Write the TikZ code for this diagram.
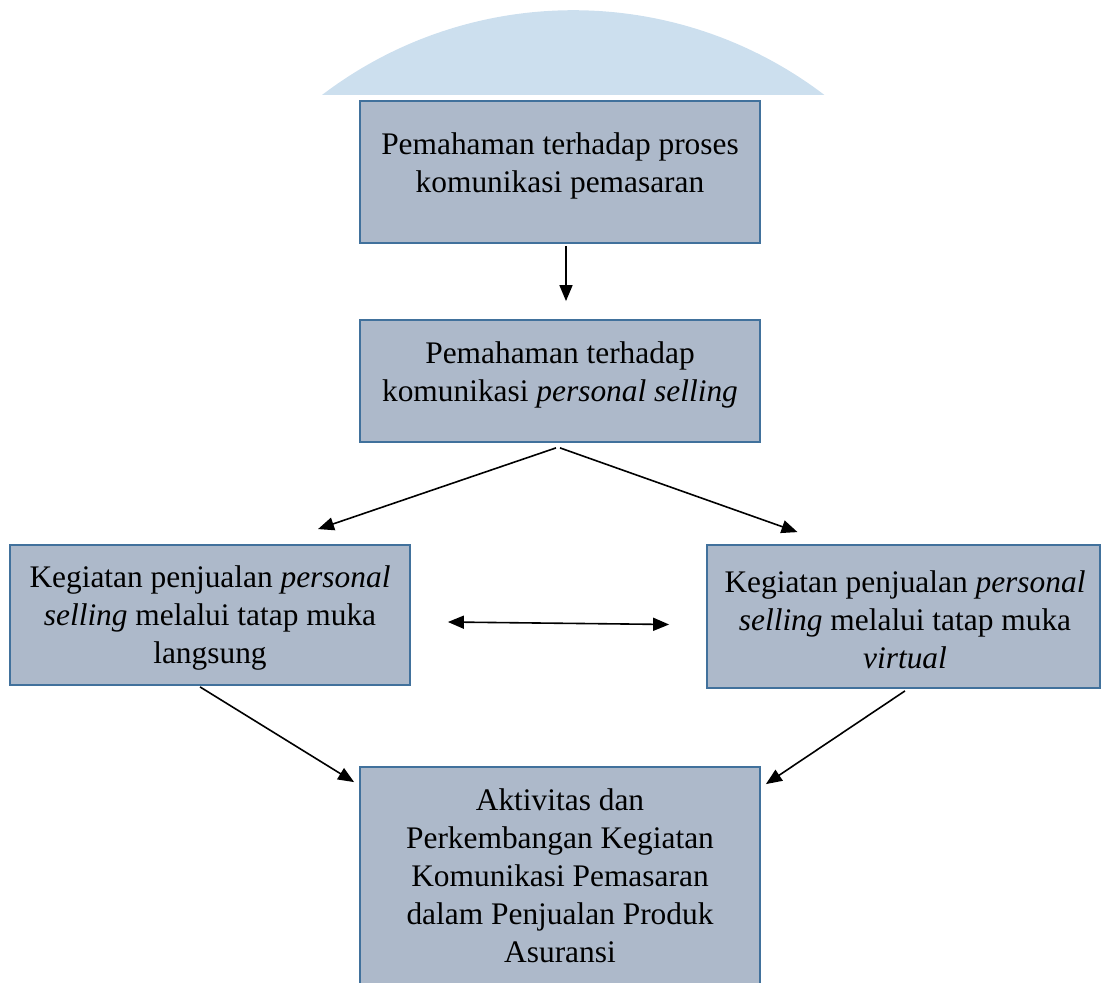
\documentclass[tikz,border=0pt]{standalone}
\usepackage{fontspec}
\setmainfont{Liberation Serif}
\usetikzlibrary{arrows.meta}
\definecolor{boxfill}{HTML}{ADB9CA}
\definecolor{boxline}{HTML}{41719C}
\definecolor{arcfill}{HTML}{CCDFEE}
\begin{document}
\begin{tikzpicture}[x=0.5pt,y=-0.5pt,
  box/.style={draw=boxline, fill=boxfill, line width=0.9pt, inner sep=0pt},
  txt/.style={align=center, font=\fontsize{15.7}{19}\selectfont, inner sep=0pt},
  arr/.style={-{Triangle[length=8pt,width=6.5pt]}, line width=0.8pt},
  darr/.style={{Triangle[length=8pt,width=6.5pt]}-{Triangle[length=8pt,width=6.5pt]}, line width=0.8pt}]
\useasboundingbox (0,0) rectangle (1102,983);
\fill[arcfill] (322,95) arc[start angle=-127.3, end angle=-52.7, radius=414.6] -- cycle;
\node[box, minimum width=200pt, minimum height=71pt] (b1) at (560,172) {};
\node[box, minimum width=200pt, minimum height=61pt] (b2) at (560,381) {};
\node[box, minimum width=200pt, minimum height=70pt] (b3) at (210,615) {};
\node[box, minimum width=196.5pt, minimum height=71.5pt] (b4) at (903.5,616.5) {};
\node[box, minimum width=200pt, minimum height=121.5pt] (b5) at (560,888.5) {};
\node[txt] (t1) at (560,166) {Pemahaman terhadap proses\\komunikasi pemasaran};
\node[txt] (t2) at (560,375) {Pemahaman terhadap\\komunikasi \textit{personal selling}};
\node[txt] (t3) at (210,618) {Kegiatan penjualan \textit{personal}\\\textit{selling} melalui tatap muka\\langsung};
\node[txt] (t4) at (905,620) {Kegiatan penjualan \textit{personal}\\\textit{selling} melalui tatap muka\\\textit{virtual}};
\node[txt] (t5) at (560,876) {Aktivitas dan\\Perkembangan Kegiatan\\Komunikasi Pemasaran\\dalam Penjualan Produk\\Asuransi};
\draw[arr] ([xshift=3pt,yshift=-1pt]b1.south) -- ([xshift=3pt,yshift=9pt]b2.north);
\draw[arr] ([xshift=-2pt,yshift=-2.5pt]b2.south) -- ([xshift=54pt,yshift=7.5pt]b3.north);
\draw[arr] ([yshift=-2.5pt]b2.south) -- ([xshift=-53pt,yshift=6pt]b4.north);
\draw[darr] ([xshift=18.5pt,yshift=-3.5pt]b3.east) -- ([xshift=-18.5pt,yshift=-4pt]b4.west);
\draw[arr] ([xshift=-5pt,yshift=-0.5pt]b3.south) -- ([xshift=-2.5pt,yshift=-8pt]b5.north west);
\draw[arr] ([xshift=0.75pt,yshift=-1pt]b4.south) -- ([xshift=2.5pt,yshift=-9pt]b5.north east);
\end{tikzpicture}
\end{document}
